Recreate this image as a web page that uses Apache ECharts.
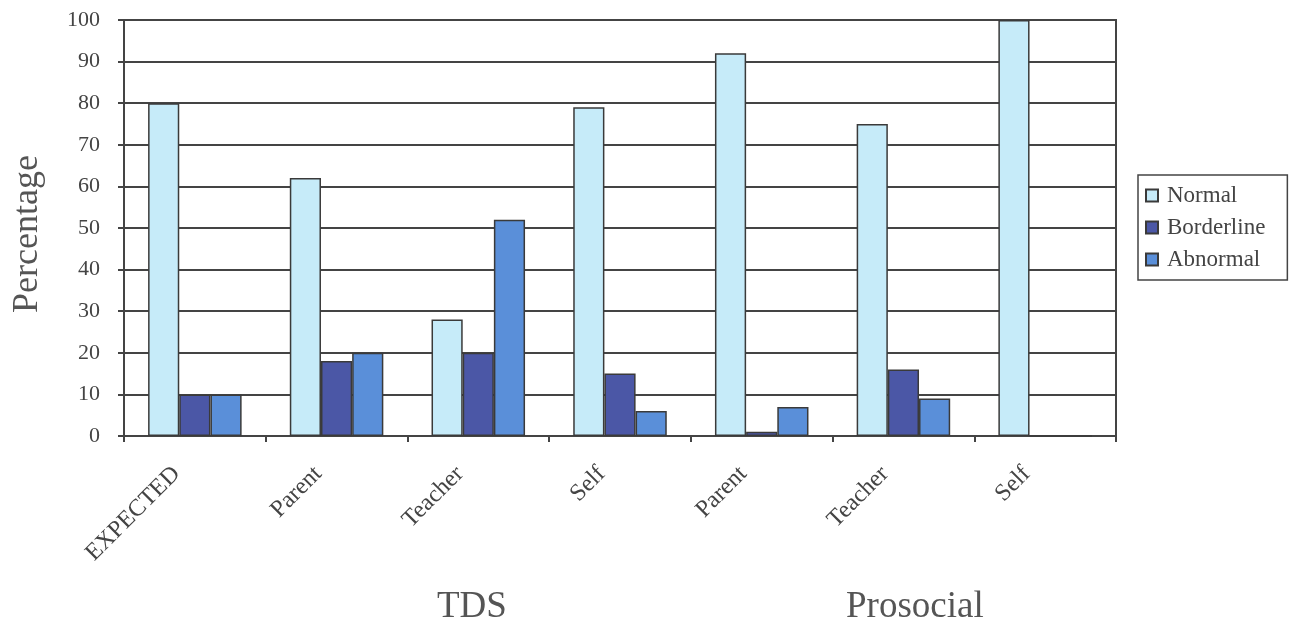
<!DOCTYPE html>
<html>
<head>
<meta charset="utf-8">
<script src="https://cdn.jsdelivr.net/npm/echarts@6/dist/echarts.min.js"></script>
<style>html,body{margin:0;padding:0;background:#fff;}#c{width:1295px;height:634px;}</style>
</head>
<body>
<div id="c"></div>
<script>
const categories = ['EXPECTED', 'Parent', 'Teacher', 'Self', 'Parent', 'Teacher', 'Self'];
const normal = [80, 62, 28, 79, 92, 75, 100];
const borderline = [10, 18, 20, 15, 1, 16, 0];
const abnormal = [10, 20, 52, 6, 7, 9, 0];
const groupLabels = ['TDS', 'Prosocial'];
const yTicks = [0, 10, 20, 30, 40, 50, 60, 70, 80, 90, 100];

const FONT = '"Liberation Serif", "DejaVu Serif", serif';
const chart = echarts.init(document.getElementById('c'));
const barStyle = (color) => ({ color: color, borderColor: '#3a3a3a', borderWidth: 1.5 });

chart.setOption({
  backgroundColor: '#fff',
  animation: false,
  grid: { left: 124, right: 179, top: 20, bottom: 198, show: true, borderColor: '#444', borderWidth: 2, backgroundColor: 'transparent' },
  legend: {
    orient: 'vertical', left: 1138, top: 175,
    data: ['Normal', 'Borderline', 'Abnormal'],
    borderColor: '#444', borderWidth: 1.5, padding: [9, 22, 9, 7],
    itemWidth: 12, itemHeight: 12, itemGap: 9,
    textStyle: { fontFamily: FONT, fontSize: 23, color: '#444', padding: [0, 0, 0, 4] },
    icon: 'rect'
  },
  xAxis: {
    type: 'category', data: categories,
    axisLine: { show: true, lineStyle: { color: '#444', width: 2 } },
    axisTick: { show: true, alignWithLabel: false, length: 6, lineStyle: { color: '#444', width: 2 } },
    axisLabel: { rotate: 45, interval: 0, fontFamily: FONT, fontSize: 24, color: '#444', margin: 16, padding: [0, 26, 0, 0] },
    splitLine: { show: false }
  },
  yAxis: {
    type: 'value', min: 0, max: 100, interval: 10,
    name: 'Percentage', nameLocation: 'middle', nameGap: 78, nameRotate: 90,
    nameTextStyle: { fontFamily: FONT, fontSize: 36, color: '#555', padding: [0, 12, 0, 0] },
    axisLine: { show: true, lineStyle: { color: '#444', width: 2 } },
    axisTick: { show: true, length: 6, lineStyle: { color: '#444', width: 2 } },
    axisLabel: { fontFamily: FONT, fontSize: 22, color: '#444', margin: 24,
      formatter: (v) => yTicks.includes(v) ? String(v) : '' },
    splitLine: { show: true, lineStyle: { color: '#444', width: 2 } }
  },
  series: [
    { name: 'Normal', type: 'bar', data: normal, itemStyle: barStyle('#c6ebf9'), barGap: '0%', barCategoryGap: '34%' },
    { name: 'Borderline', type: 'bar', data: borderline, itemStyle: barStyle('#4b57a6') },
    { name: 'Abnormal', type: 'bar', data: abnormal, itemStyle: barStyle('#5a8fd9') }
  ],
  graphic: [
    { type: 'text', left: 437, top: 589, style: { text: groupLabels[0], font: '37px ' + FONT, fill: '#555' } },
    { type: 'text', left: 846, top: 589, style: { text: groupLabels[1], font: '37px ' + FONT, fill: '#555' } }
  ]
});
</script>
</body>
</html>
